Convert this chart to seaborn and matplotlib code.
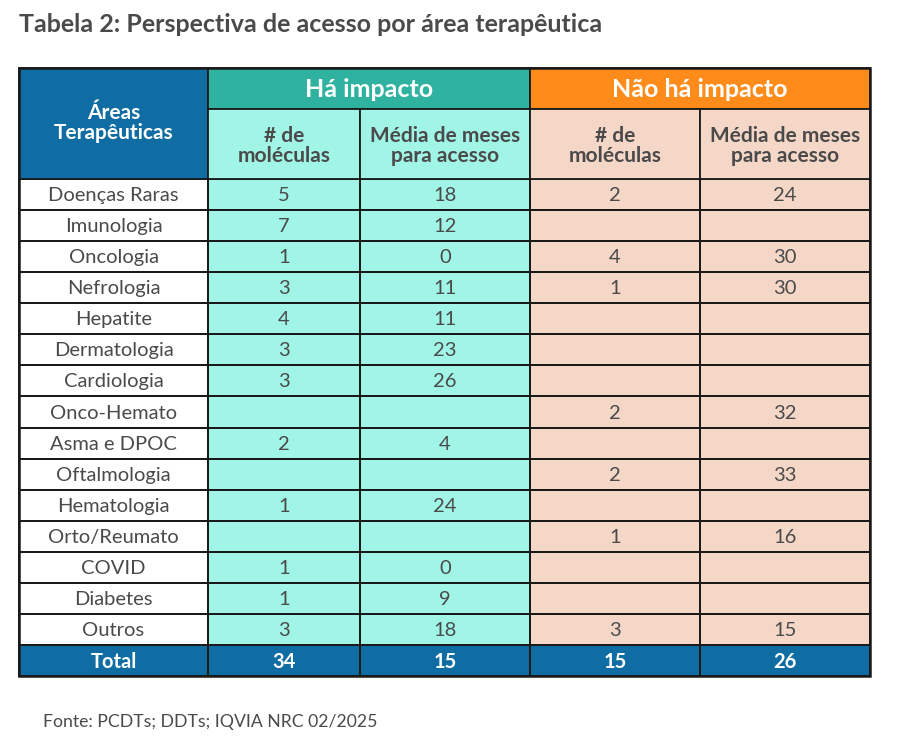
import numpy as np
import matplotlib.pyplot as plt
import seaborn as sns
from matplotlib.colors import ListedColormap

# Dados da tabela
areas = ['Doenças Raras', 'Imunologia', 'Oncologia', 'Nefrologia', 'Hepatite',
         'Dermatologia', 'Cardiologia', 'Onco-Hemato', 'Asma e DPOC', 'Oftalmologia',
         'Hematologia', 'Orto/Reumato', 'COVID', 'Diabetes', 'Outros']
impacto_moleculas = [5, 7, 1, 3, 4, 3, 3, None, 2, None, 1, None, 1, 1, 3]
impacto_meses = [18, 12, 0, 11, 11, 23, 26, None, 4, None, 24, None, 0, 9, 18]
sem_impacto_moleculas = [2, None, 4, 1, None, None, None, 2, None, 2, None, 1, None, None, 3]
sem_impacto_meses = [24, None, 30, 30, None, None, None, 32, None, 33, None, 16, None, None, 15]
totais = [34, 15, 15, 26]

grupos = ['Há impacto', 'Não há impacto']
sub_headers = ['# de\nmoléculas', 'Média de meses\npara acesso']

# Cores
azul = '#0F6DA3'
verde = '#2FB2A0'
verde_claro = '#A1F5E6'
laranja = '#FF8C1A'
pessego = '#F5D7C8'
cinza = '#4A4A4A'

sns.set_theme(style='white')
plt.rcParams['font.family'] = ['Lato', 'DejaVu Sans']

fig = plt.figure(figsize=(9.08, 7.48), dpi=100)
ax = fig.add_axes([0, 0, 1, 1])
ax.set_xlim(0, 908)
ax.set_ylim(748, 0)
ax.axis('off')

col_edges = np.array([19, 208, 360, 530, 700, 870])
top = 68
h1 = 109
h2 = 179
n = len(areas)
row_h = 31.07
row_edges = h2 + np.arange(n + 2) * row_h
borda = '#1a1a1a'

# matriz de cores: 0 branco, 1 verde claro, 2 pessego, 3 azul
cor_idx = np.zeros((n + 1, 5))
cor_idx[:, 1:3] = 1
cor_idx[:, 3:5] = 2
cor_idx[n, :] = 3
cmap = ListedColormap(['white', verde_claro, pessego, azul])
ax.pcolormesh(col_edges, row_edges, cor_idx, cmap=cmap, vmin=-0.5, vmax=3.5,
              edgecolor=borda, linewidth=1.3)

# cabeçalho
ax.add_patch(plt.Rectangle((col_edges[0], top), col_edges[1] - col_edges[0], h2 - top,
                           facecolor=azul, edgecolor=borda, lw=1.3))
ax.add_patch(plt.Rectangle((col_edges[1], top), col_edges[3] - col_edges[1], h1 - top,
                           facecolor=verde, edgecolor=borda, lw=1.3))
ax.add_patch(plt.Rectangle((col_edges[3], top), col_edges[5] - col_edges[3], h1 - top,
                           facecolor=laranja, edgecolor=borda, lw=1.3))
for j in range(1, 5):
    ax.add_patch(plt.Rectangle((col_edges[j], h1), col_edges[j + 1] - col_edges[j], h2 - h1,
                               facecolor=verde_claro if j < 3 else pessego,
                               edgecolor=borda, lw=1.3))

ax.add_patch(plt.Rectangle((col_edges[0], top), col_edges[5] - col_edges[0], row_edges[-1] - top,
                           facecolor='none', edgecolor=borda, lw=1.8))

centros = (col_edges[:-1] + col_edges[1:]) / 2
ax.text(centros[0], (top + h2) / 2 - 1, 'Áreas\nTerapêuticas', ha='center', va='center',
        color='white', fontsize=15, fontweight='bold', linespacing=1.0)
ax.text((col_edges[1] + col_edges[3]) / 2, (top + h1) / 2 + 1, grupos[0], ha='center', va='center',
        color='white', fontsize=18, fontweight='bold')
ax.text((col_edges[3] + col_edges[5]) / 2, (top + h1) / 2 + 1, grupos[1], ha='center', va='center',
        color='white', fontsize=18, fontweight='bold')
for j in range(1, 5):
    ax.text(centros[j], (h1 + h2) / 2 + 2, sub_headers[(j - 1) % 2], ha='center', va='center',
            color=cinza, fontsize=15, fontweight='bold', linespacing=1.0)

colunas = [impacto_moleculas, impacto_meses, sem_impacto_moleculas, sem_impacto_meses]
for i, area in enumerate(areas):
    yc = (row_edges[i] + row_edges[i + 1]) / 2 + 1
    ax.text(centros[0], yc, area, ha='center', va='center', color=cinza, fontsize=14.5)
    for j, col in enumerate(colunas):
        if col[i] is not None:
            ax.text(centros[j + 1], yc, str(col[i]), ha='center', va='center',
                    color=cinza, fontsize=14.5)

yt = (row_edges[n] + row_edges[n + 1]) / 2 + 1
ax.text(centros[0], yt, 'Total', ha='center', va='center', color='white',
        fontsize=14.5, fontweight='bold')
for j, v in enumerate(totais):
    ax.text(centros[j + 1], yt, str(v), ha='center', va='center', color='white',
            fontsize=14.5, fontweight='bold')

ax.text(19, 24, 'Tabela 2: Perspectiva de acesso por área terapêutica', ha='left', va='center',
        color=cinza, fontsize=18, fontweight='bold')
ax.text(43, 722, 'Fonte: PCDTs; DDTs; IQVIA NRC 02/2025', ha='left', va='center',
        color=cinza, fontsize=12.7)

fig.savefig('out.png', dpi=100)
